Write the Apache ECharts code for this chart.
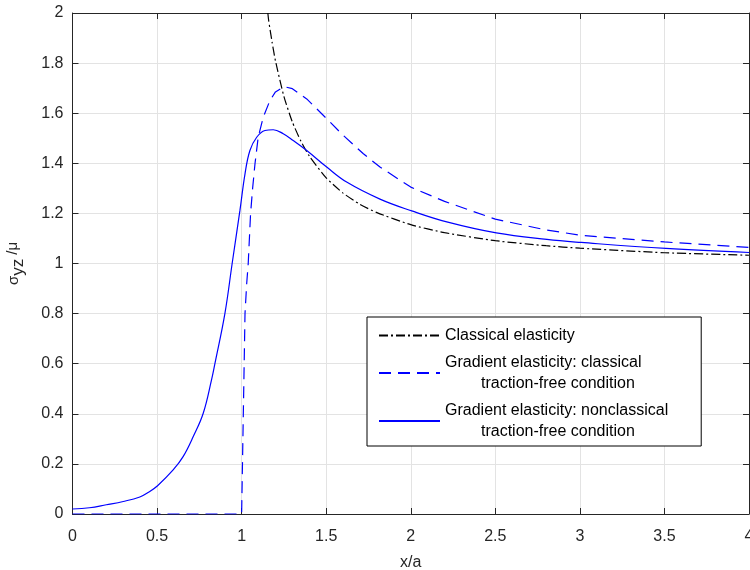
<!DOCTYPE html>
<html>
<head>
<meta charset="utf-8">
<script src="https://cdn.jsdelivr.net/npm/echarts@6/dist/echarts.min.js"></script>
<style>
  html, body { margin: 0; padding: 0; background: #fff; }
  #chart { width: 750px; height: 570px; }
</style>
</head>
<body>
<div id="chart"></div>
<script>
// values
const classicalX = [1.155, 1.16, 1.18, 1.2, 1.25, 1.3, 1.35, 1.4, 1.5, 1.6, 1.7, 1.8, 2.0, 2.2, 2.5, 2.8, 3.0, 3.5, 4.0];
const classicalY = [2.0, 1.97, 1.884, 1.809, 1.667, 1.565, 1.489, 1.429, 1.342, 1.281, 1.236, 1.203, 1.155, 1.123, 1.091, 1.071, 1.061, 1.043, 1.033];

const gradClassicalX = [0, 1.0, 1.005, 1.01, 1.015, 1.02, 1.03, 1.039, 1.053, 1.065, 1.079, 1.098, 1.128, 1.167, 1.2, 1.25, 1.3, 1.385, 1.5, 1.6, 1.72, 1.818, 2.0, 2.2, 2.5, 2.8, 3.0, 3.5, 4.0];
const gradClassicalY = [0, 0, 0.2, 0.4, 0.6, 0.8, 0.92, 1.0, 1.2, 1.3, 1.398, 1.504, 1.584, 1.65, 1.685, 1.706, 1.698, 1.657, 1.58, 1.512, 1.438, 1.385, 1.305, 1.248, 1.177, 1.134, 1.113, 1.086, 1.064];

const gradNonclassicalX = [0, 0.1, 0.2, 0.3, 0.398, 0.45, 0.503, 0.595, 0.654, 0.714, 0.773, 0.822, 0.842, 0.901, 0.944, 0.99, 1.02, 1.049, 1.089, 1.138, 1.187, 1.246, 1.305, 1.385, 1.503, 1.621, 1.818, 2.006, 2.213, 2.506, 2.805, 3.008, 3.509, 4.0];
const gradNonclassicalY = [0.02, 0.025, 0.037, 0.05, 0.068, 0.087, 0.113, 0.176, 0.229, 0.309, 0.402, 0.535, 0.6, 0.8, 1.0, 1.212, 1.358, 1.451, 1.504, 1.531, 1.534, 1.518, 1.491, 1.451, 1.385, 1.325, 1.257, 1.21, 1.166, 1.122, 1.096, 1.084, 1.06, 1.044];

const seriesNames = [
  'Classical elasticity',
  'Gradient elasticity: classical\ntraction-free condition',
  'Gradient elasticity: nonclassical\ntraction-free condition'
];

const pairs = (xs, ys) => xs.map((x, i) => [x, ys[i]]);

const axisColor = '#262626';
const gridColor = '#e3e3e3';
const font = 'Liberation Sans, Arial, sans-serif';

const chart = echarts.init(document.getElementById('chart'));

const boxAxis = {
  min: 0,
  axisLine: { show: true, onZero: false, lineStyle: { color: axisColor, width: 1 } },
  axisTick: { show: true, inside: true, length: 6, lineStyle: { color: axisColor } },
  axisLabel: { show: false },
  splitLine: { show: false }
};

const option = {
  animation: false,
  backgroundColor: '#fff',
  grid: { left: 72.5, right: 1, top: 13, bottom: 56, outerBoundsMode: 'none' },
  legend: {
    orient: 'vertical',
    left: 367,
    top: 317,
    padding: [8, 33, 4, 11],
    itemGap: 6,
    itemWidth: 61,
    itemHeight: 14,
    backgroundColor: '#fff',
    borderColor: '#000',
    borderWidth: 1,
    borderRadius: 0,
    itemStyle: { opacity: 0 },
    data: seriesNames,
    formatter: function (name) {
      const parts = name.split('\n');
      if (parts.length === 1) return '{a|' + parts[0] + '}';
      return '{a|' + parts[0] + '}\n{b|' + parts[1] + '}';
    },
    textStyle: {
      color: '#000',
      fontFamily: font,
      fontSize: 16,
      lineHeight: 21,
      rich: {
        a: { fontFamily: font, fontSize: 16, lineHeight: 21, color: '#000' },
        b: { fontFamily: font, fontSize: 16, lineHeight: 21, color: '#000', padding: [0, 0, 0, 36] }
      }
    }
  },
  xAxis: [{
    type: 'value',
    min: 0,
    max: 4,
    interval: 0.5,
    name: 'x/a',
    nameLocation: 'middle',
    nameGap: 41,
    nameTextStyle: { color: axisColor, fontFamily: font, fontSize: 16 },
    axisLine: { show: true, onZero: false, lineStyle: { color: axisColor, width: 1 } },
    axisTick: { show: true, inside: true, length: 6, lineStyle: { color: axisColor } },
    axisLabel: { color: axisColor, fontFamily: font, fontSize: 16, margin: 15 },
    splitLine: { show: true, lineStyle: { color: gridColor, width: 1 } }
  }, Object.assign({}, boxAxis, { type: 'value', position: 'top', max: 4, interval: 0.5 })],
  yAxis: [{
    type: 'value',
    min: 0,
    max: 2,
    interval: 0.2,
    name: '{s|σ}{sub|yz}{n| /μ}',
    nameLocation: 'middle',
    nameGap: 46,
    nameTextStyle: {
      color: axisColor,
      fontFamily: font,
      rich: {
        s: { fontFamily: font, fontSize: 15, color: axisColor, padding: [0, 0, 3, 0] },
        sub: { fontFamily: font, fontSize: 17, color: axisColor, padding: [6, 0, 0, 0] },
        n: { fontFamily: font, fontSize: 15, color: axisColor, padding: [0, 0, 5, 0] }
      }
    },
    axisLine: { show: true, onZero: false, lineStyle: { color: axisColor, width: 1 } },
    axisTick: { show: true, inside: true, length: 6, lineStyle: { color: axisColor } },
    axisLabel: { color: axisColor, fontFamily: font, fontSize: 16, margin: 9 },
    splitLine: { show: true, lineStyle: { color: gridColor, width: 1 } }
  }, Object.assign({}, boxAxis, { type: 'value', position: 'right', max: 2, interval: 0.2 })],
  series: [
    {
      name: seriesNames[0],
      type: 'line',
      data: pairs(classicalX, classicalY),
      symbol: 'none',
      smooth: 0.2,
      clip: true,
      itemStyle: { color: '#000' },
      lineStyle: { color: '#000', width: 1.2, type: [9, 3, 2, 3] },
      z: 3
    },
    {
      name: seriesNames[1],
      type: 'line',
      data: pairs(gradClassicalX, gradClassicalY),
      symbol: 'none',
      smooth: false,
      clip: true,
      itemStyle: { color: '#0000ff' },
      lineStyle: { color: '#0000ff', width: 1.2, type: [12, 7] },
      z: 4
    },
    {
      name: seriesNames[2],
      type: 'line',
      data: pairs(gradNonclassicalX, gradNonclassicalY),
      symbol: 'none',
      smooth: 0.4,
      clip: true,
      itemStyle: { color: '#0000ff' },
      lineStyle: { color: '#0000ff', width: 1.2 },
      z: 5
    }
  ]
};

chart.setOption(option);
</script>
</body>
</html>
